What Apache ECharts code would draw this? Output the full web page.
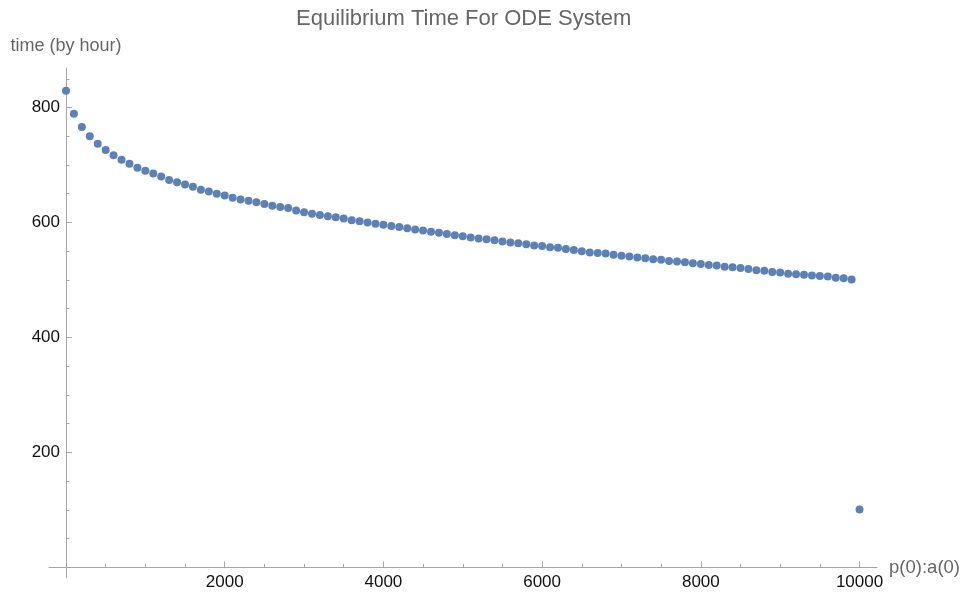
<!DOCTYPE html>
<html>
<head>
<meta charset="utf-8">
<script src="https://cdn.jsdelivr.net/npm/echarts@6/dist/echarts.min.js"></script>
<style>
  html, body { margin: 0; padding: 0; background: #fff; }
  #chart { width: 962px; height: 594px; }
</style>
</head>
<body>
<div id="chart"></div>
<script>
// Initial ratio p(0):a(0)
const ratios = [
  0, 100, 200, 300, 400, 500, 600, 700, 800, 900,
  1000, 1100, 1200, 1300, 1400, 1500, 1600, 1700, 1800, 1900,
  2000, 2100, 2200, 2300, 2400, 2500, 2600, 2700, 2800, 2900,
  3000, 3100, 3200, 3300, 3400, 3500, 3600, 3700, 3800, 3900,
  4000, 4100, 4200, 4300, 4400, 4500, 4600, 4700, 4800, 4900,
  5000, 5100, 5200, 5300, 5400, 5500, 5600, 5700, 5800, 5900,
  6000, 6100, 6200, 6300, 6400, 6500, 6600, 6700, 6800, 6900,
  7000, 7100, 7200, 7300, 7400, 7500, 7600, 7700, 7800, 7900,
  8000, 8100, 8200, 8300, 8400, 8500, 8600, 8700, 8800, 8900,
  9000, 9100, 9200, 9300, 9400, 9500, 9600, 9700, 9800, 9900,
  10000
];

// Time to reach equilibrium (hours)
const equilibriumHours = [
  829, 789, 766, 750, 737, 726, 717, 709, 702, 695,
  690, 685, 680, 674, 670, 666, 662, 657, 654, 650,
  647, 643, 640, 638, 635, 632, 629, 627, 625, 621,
  618, 615, 613, 611, 609, 607, 604, 602, 600, 598,
  596, 594, 592, 590, 588, 586, 584, 582, 580, 578,
  576, 574, 572, 571, 569, 567, 565, 564, 562, 560,
  559, 557, 556, 554, 552, 550, 548, 547, 546, 544,
  542, 541, 539, 538, 536, 535, 533, 532, 531, 529,
  528, 526, 525, 523, 522, 521, 519, 517, 516, 514,
  513, 511, 510, 509, 508, 507, 506, 504, 503, 501,
  101
];

// Tick positions
const xMajorTicks = [2000, 4000, 6000, 8000, 10000];
const xMinorTicks = [500, 1000, 1500, 2500, 3000, 3500, 4500, 5000, 5500,
  6500, 7000, 7500, 8500, 9000, 9500];
const yMajorTicks = [200, 400, 600, 800];
const yMinorTicks = [50, 100, 150, 250, 300, 350, 450, 500, 550,
  650, 700, 750, 850];

const titleText = 'Equilibrium Time For ODE System';
const xName = 'p(0):a(0)';
const yName = 'time (by hour)';

const points = ratios.map((r, i) => [r, equilibriumHours[i]]);

const FONT = '"Liberation Sans", Arial, sans-serif';
const AXIS_COLOR = '#a6a6a6';
const LABEL_COLOR = '#111111';
const NAME_COLOR = '#666666';
// Axis ranges leave a little room past the origin so the axes cross like a plain x/y frame
const X_MIN = -214, X_MAX = 10220;
const Y_MIN = -18.3, Y_MAX = 868.7;

const plainNumber = v => String(v);

const chart = echarts.init(document.getElementById('chart'), null, { renderer: 'canvas' });

chart.setOption({
  animation: false,
  backgroundColor: '#ffffff',
  title: {
    text: titleText,
    left: 296,
    top: 8,
    padding: 0,
    textStyle: { fontFamily: FONT, fontSize: 22, fontWeight: 'normal', color: NAME_COLOR }
  },
  grid: { left: 49, right: 85, top: 68, bottom: 16, outerBoundsMode: 'none' },
  xAxis: [
    {
      type: 'value',
      position: 'bottom',
      min: X_MIN,
      max: X_MAX,
      name: xName,
      nameLocation: 'end',
      nameGap: 12,
      nameTextStyle: { fontFamily: FONT, fontSize: 18.5, color: NAME_COLOR, padding: [12, 0, 0, 0] },
      axisLine: { show: true, onZero: true, lineStyle: { color: AXIS_COLOR, width: 1 } },
      axisTick: { show: true, inside: true, length: 6, customValues: xMajorTicks,
        lineStyle: { color: AXIS_COLOR } },
      axisLabel: { show: true, customValues: xMajorTicks, margin: -4, formatter: plainNumber,
        fontFamily: FONT, fontSize: 17, color: LABEL_COLOR },
      splitLine: { show: false }
    },
    {
      type: 'value',
      position: 'bottom',
      min: X_MIN,
      max: X_MAX,
      axisLine: { show: false, onZero: true },
      axisTick: { show: true, inside: true, length: 3.5, customValues: xMinorTicks,
        lineStyle: { color: AXIS_COLOR } },
      axisLabel: { show: false },
      splitLine: { show: false }
    }
  ],
  yAxis: [
    {
      type: 'value',
      position: 'left',
      min: Y_MIN,
      max: Y_MAX,
      name: yName,
      nameLocation: 'end',
      nameGap: 13,
      nameTextStyle: { fontFamily: FONT, fontSize: 18, color: NAME_COLOR, align: 'center' },
      axisLine: { show: true, onZero: true, lineStyle: { color: AXIS_COLOR, width: 1 } },
      axisTick: { show: true, inside: true, length: 6, customValues: yMajorTicks,
        lineStyle: { color: AXIS_COLOR } },
      axisLabel: { show: true, customValues: yMajorTicks, margin: -11, formatter: plainNumber,
        fontFamily: FONT, fontSize: 17, color: LABEL_COLOR },
      splitLine: { show: false }
    },
    {
      type: 'value',
      position: 'left',
      min: Y_MIN,
      max: Y_MAX,
      axisLine: { show: false, onZero: true },
      axisTick: { show: true, inside: true, length: 3.5, customValues: yMinorTicks,
        lineStyle: { color: AXIS_COLOR } },
      axisLabel: { show: false },
      splitLine: { show: false }
    }
  ],
  series: [
    {
      type: 'scatter',
      xAxisIndex: 0,
      yAxisIndex: 0,
      data: points,
      symbol: 'circle',
      symbolSize: 8,
      itemStyle: { color: '#5e81b5', opacity: 1 }
    }
  ]
});
</script>
</body>
</html>
